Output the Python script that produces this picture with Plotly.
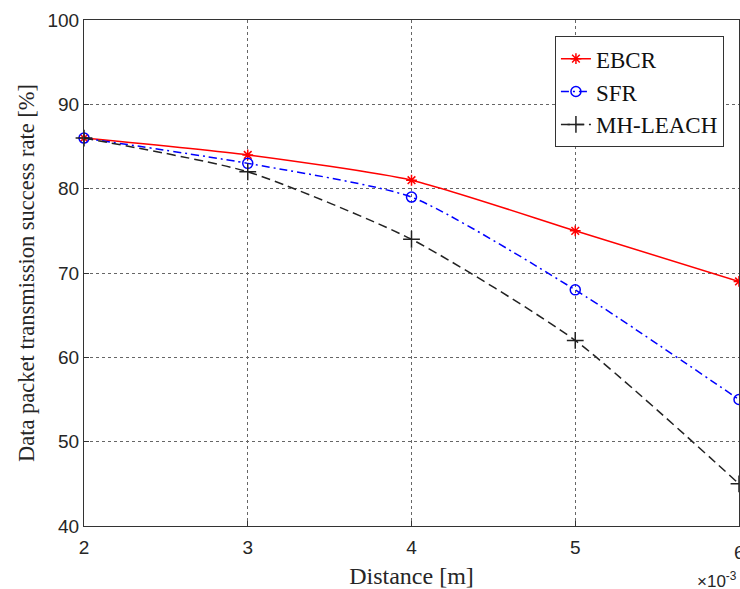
import plotly.graph_objects as go

# distance in metres, success rate in %
distance = [0.002, 0.003, 0.004, 0.005, 0.006]
ebcr = [86, 84, 81, 75, 69]
sfr = [86, 83, 79, 68, 55]
mh_leach = [86, 82, 74, 62, 45]

x_ticks = [0.002, 0.003, 0.004, 0.005, 0.006]
x_tick_text = ["2", "3", "4", "5", "6"]

series = [
    ("EBCR", ebcr, "#ff0000", "solid", "asterisk-open", 9),
    ("SFR", sfr, "#0000ff", "8px,4px,2px,4px", "circle-open", 10),
    ("MH-LEACH", mh_leach, "#222222", "9px,5px", "cross-thin-open", 12),
]

fig = go.Figure()
for name, vals, color, dash, symbol, msize in series:
    fig.add_trace(go.Scatter(
        x=distance, y=vals, name=name, mode="lines+markers",
        line=dict(color=color, width=1.5, dash=dash, shape="spline", smoothing=0.6),
        marker=dict(symbol=symbol, size=msize, color=color, line=dict(color=color, width=1.5)),
        cliponaxis=False,
    ))

tick_font = dict(family="Liberation Sans, Arial", size=19, color="#262626")
axis_common = dict(
    showline=True, linecolor="#333333", linewidth=1, mirror=True,
    showgrid=True, gridcolor="#666666", griddash="dot", gridwidth=1,
    ticks="inside", ticklen=5, tickcolor="#333333",
    zeroline=False, automargin=False,
    tickfont=tick_font,
)

fig.update_xaxes(
    range=[0.002, 0.006], tickvals=x_ticks, ticktext=x_tick_text,
    ticklabelstandoff=4,
    title=dict(text="Distance [m]", font=dict(family="Liberation Serif, Times New Roman", size=24, color="#262626"), standoff=14),
    **axis_common,
)
fig.update_yaxes(
    range=[40, 100], dtick=10,
    title=dict(text="Data packet transmission success rate [%]", font=dict(family="Liberation Serif, Times New Roman", size=22.5, color="#262626"), standoff=6),
    **axis_common,
)

# plotly drops the last tick label at the page edge; the reference shows it clipped
fig.add_annotation(
    text=x_tick_text[-1], x=x_ticks[-1], xref="x", yref="paper", y=-0.028,
    xanchor="center", yanchor="top", showarrow=False, font=tick_font,
)
fig.add_annotation(
    text="×10<sup>-3</sup>", xref="paper", yref="paper", x=1.0, y=-0.082,
    xanchor="right", yanchor="top", showarrow=False,
    font=dict(family="Liberation Sans, Arial", size=17, color="#262626"),
)

fig.update_layout(
    width=740, height=589,
    margin=dict(l=84, r=1, t=20, b=63),
    plot_bgcolor="white", paper_bgcolor="white",
    legend=dict(
        x=0.977, y=0.968, xanchor="right", yanchor="top",
        bgcolor="white", bordercolor="#333333", borderwidth=1,
        font=dict(family="Liberation Serif, Times New Roman", size=23, color="#111111"),
        tracegroupgap=0, itemwidth=30,
    ),
)

# drop the browser's default page margin so the figure sits at the top-left corner
fig.write_html(
    "out.html",
    config={"displayModeBar": False},
    post_script="document.body.style.margin='0';",
)
